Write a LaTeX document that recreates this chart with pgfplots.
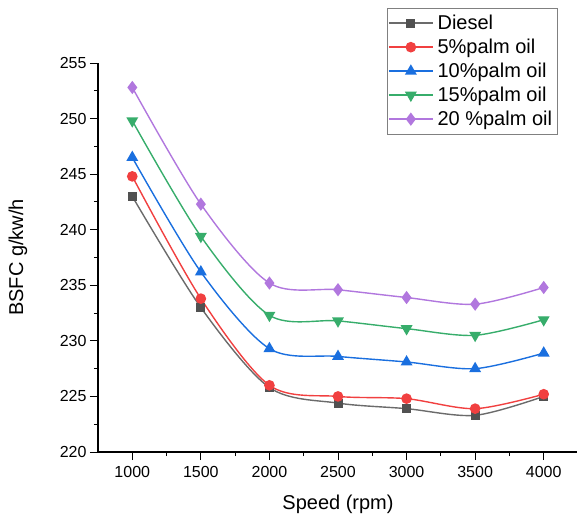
\documentclass[border=0pt]{standalone}
\usepackage{pgfplots}
\pgfplotsset{compat=1.18}
\usepackage{fontspec}
\setmainfont{Liberation Sans}

\definecolor{cdiesel}{HTML}{515151}
\definecolor{cred}{HTML}{F14040}
\definecolor{cblue}{HTML}{1A6FDF}
\definecolor{cgreen}{HTML}{37AD6B}
\definecolor{cpurple}{HTML}{B177DE}

\begin{document}
\begin{tikzpicture}
\path[use as bounding box] (-98pt,-63pt) rectangle (479pt,452pt);
\begin{axis}[
  at={(0pt,0pt)}, anchor=south west,
  scale only axis,
  width=480pt, height=389pt,
  xmin=750, xmax=4250,
  ymin=220, ymax=255,
  axis lines*=left,
  axis line style={line width=1.1pt},
  xtick={1000,1500,...,4000},
  ytick={220,225,...,255},
  minor x tick num=1,
  minor y tick num=1,
  tick align=outside,
  major tick length=8pt,
  minor tick length=4pt,
  tick style={line width=1pt, black},
  /pgf/number format/assume math mode=true,
  /pgf/number format/1000 sep={},
  tick label style={font=\fontsize{16}{19}\selectfont},
  xticklabel style={yshift=-3pt},
  xlabel={Speed (rpm)},
  ylabel={BSFC g/kw/h},
  label style={font=\fontsize{20}{24}\selectfont},
  xlabel style={at={(axis description cs:0.5,-0.1335)}, anchor=center},
  ylabel style={at={(axis description cs:-0.167,0.5)}, anchor=center},
  every axis plot/.append style={smooth, line width=1.4pt},
  legend cell align=left,
  legend style={at={(axis description cs:0.602,1.1414)}, anchor=north west,
    font=\fontsize{20}{24}\selectfont, draw=gray,
    inner xsep=1pt, inner ysep=5pt, row sep=4pt,
    nodes={inner xsep=4pt}},
  legend image code/.code={%
    \draw[line width=1.4pt, mark repeat=2, mark phase=2]
      plot coordinates {(0pt,0pt) (22pt,0pt) (44pt,0pt)};},
]
\addplot[color=cdiesel!85, mark=square*, mark size=3.8pt,
  mark options={fill=cdiesel, draw=cdiesel}] coordinates {
  (1000,243.0) (1500,233.0) (2000,225.8) (2500,224.4)
  (3000,223.9) (3500,223.3) (4000,225.0)};
\addlegendentry{Diesel}
\addplot[color=cred, mark=*, mark size=4.6pt] coordinates {
  (1000,244.8) (1500,233.8) (2000,226.0) (2500,225.0)
  (3000,224.8) (3500,223.9) (4000,225.2)};
\addlegendentry{5\%palm oil}
\addplot[color=cblue, mark=triangle*, mark size=5.5pt] coordinates {
  (1000,246.5) (1500,236.2) (2000,229.3) (2500,228.6)
  (3000,228.1) (3500,227.5) (4000,228.9)};
\addlegendentry{10\%palm oil}
\addplot[color=cgreen, mark=triangle*, mark size=5.5pt,
  mark options={rotate=180}] coordinates {
  (1000,249.8) (1500,239.4) (2000,232.3) (2500,231.8)
  (3000,231.1) (3500,230.5) (4000,231.9)};
\addlegendentry{15\%palm oil}
\addplot[color=cpurple, mark=diamond*, mark size=5.5pt] coordinates {
  (1000,252.8) (1500,242.3) (2000,235.2) (2500,234.6)
  (3000,233.9) (3500,233.3) (4000,234.8)};
\addlegendentry{20 \%palm oil}
\end{axis}
\end{tikzpicture}
\end{document}
